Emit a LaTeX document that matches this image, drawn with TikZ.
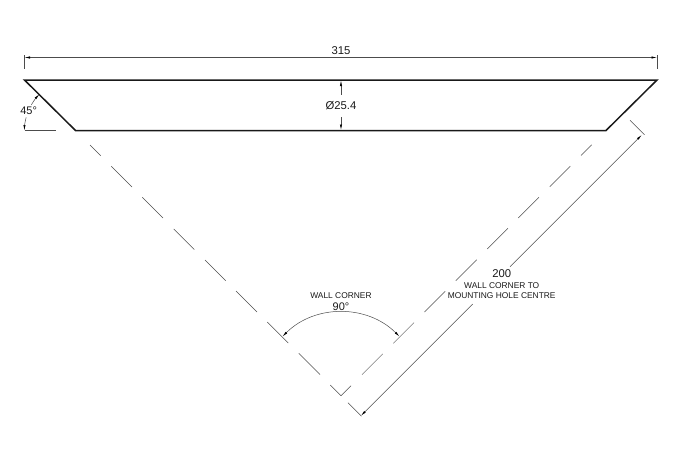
\documentclass[tikz,border=0pt]{standalone}
\usepackage{fontspec}
\setmainfont{Liberation Sans}
\usetikzlibrary{arrows.meta}
\definecolor{thinline}{gray}{0.3}
\definecolor{thickline}{gray}{0.1}
\tikzset{
  outline/.style={draw=thickline,line width=1.5pt,line join=miter},
  thin dim/.style={draw=thinline,line width=0.5pt},
  dim arrow/.style={thin dim,{Latex[length=5.5pt,width=2.2pt,black]}-{Latex[length=5.5pt,width=2.2pt,black]}},
  end arrow/.style={thin dim,-{Latex[length=5.5pt,width=2.2pt,black]}},
  big/.style={inner sep=0pt,font=\fontsize{11.3}{13}\selectfont,text=black!90},
  small/.style={inner sep=0pt,font=\fontsize{8.4}{10}\selectfont,text=black!90},
}
\begin{document}
\begin{tikzpicture}[x=1pt,y=1pt]
\useasboundingbox (0,0) rectangle (680,-453);
% outline
\coordinate (TL) at (24.5,-80);
\coordinate (TR) at (657,-80);
\coordinate (BR) at (606,-130.5);
\coordinate (BL) at (75.5,-130.5);
\draw[outline] (TL) -- (TR) -- (BR) -- (BL) -- cycle;
% overall dimension
\coordinate (DL) at (24.5,-57.5);
\coordinate (DR) at (657,-57.5);
\draw[thin dim] (24.5,-55) -- (24.5,-69);
\draw[thin dim] (657,-55) -- (657,-69);
\draw[dim arrow] (DL) -- (DR);
\node[big] (n315) at (341,-51) {315};
% diameter
\node[big] (dia) at (341,-105.7) {Ø25.4};
\coordinate (DT) at (341,-80.5);
\coordinate (DB) at (341,-130);
\draw[end arrow] (341,-94.5) -- (DT);
\draw[end arrow] (341,-117) -- (DB);
% 45 degrees
\draw[thin dim] (24.5,-130.5) -- (56,-130.5);
\draw[thin dim,{Latex[length=5.5pt,width=2.2pt,black]}-] (39.4,-94.4) arc[start angle=135,end angle=150,radius=51];
\draw[thin dim,-{Latex[length=5.5pt,width=2.2pt,black]}] (26.2,-117.3) arc[start angle=165,end angle=180,radius=51];
\node[big,font=\fontsize{11}{13}\selectfont] (n45) at (28.6,-111) {45°};
% left dashed wall
\draw[thin dim] (90,-145) -- (100.7,-155.7);
\draw[thin dim] (111.3,-166.3) -- (132,-187);
\draw[thin dim] (142.3,-197.3) -- (163,-218);
\draw[thin dim] (173.7,-229) -- (194.3,-249.6);
\draw[thin dim] (205,-260) -- (225.7,-280.7);
\draw[thin dim] (236,-291) -- (257,-312);
\draw[thin dim] (267.3,-322) -- (288.3,-343);
\draw[thin dim] (298.7,-353.3) -- (320,-374.6);
\draw[thin dim] (330.3,-385) -- (341,-395.7);
% right dashed wall
\draw[thin dim] (341,-395.7) -- (351,-385.7);
\draw[thin dim] (362,-374.6) -- (382.7,-353.9);
\draw[thin dim] (393.3,-343.3) -- (414,-322.6);
\draw[thin dim] (424.5,-312) -- (445.2,-291.3);
\draw[thin dim] (455.7,-280.7) -- (476.7,-259.7);
\draw[thin dim] (487.3,-249) -- (508,-228.3);
\draw[thin dim] (518.3,-218) -- (539,-197.3);
\draw[thin dim] (549.7,-186.7) -- (570.3,-166.1);
\draw[thin dim] (581,-155.5) -- (591.7,-144.8);
% 90 degree arc
\draw[dim arrow] (282.5,-336.5) arc[start angle=135,end angle=45,radius=82.7];
\node[small] (wc) at (341,-295.7) {WALL CORNER};
\node[big,font=\fontsize{11}{13}\selectfont] (n90) at (341,-306.8) {90°};
% 200 dimension
\coordinate (A) at (361,-415.7);
\coordinate (B) at (641.7,-135);
\draw[thin dim] (348,-402.7) -- (361.5,-416.2);
\draw[thin dim] (630,-120.3) -- (644.5,-134.8);
\draw[end arrow] (436,-340.7) -- (A);
\draw[thin dim] (436,-340.7) -- (472.7,-304);
\draw[end arrow] (510,-266.7) -- (B);
\node[big] (n200) at (501.7,-274) {200};
\node[small] (l1) at (501.7,-285.3) {WALL CORNER TO};
\node[small] (l2) at (501.7,-295.7) {MOUNTING HOLE CENTRE};
\end{tikzpicture}
\end{document}
